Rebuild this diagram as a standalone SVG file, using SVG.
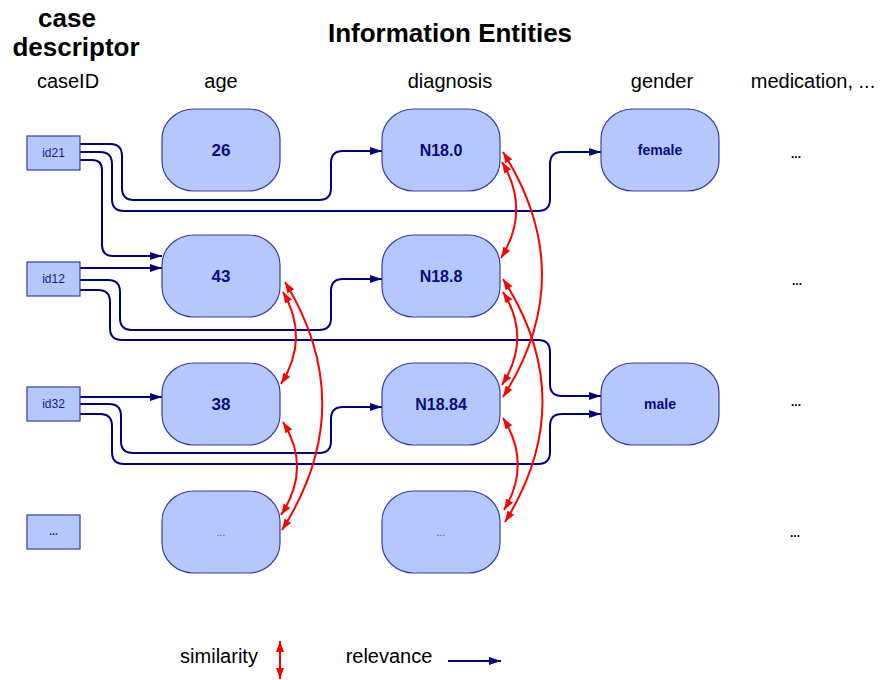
<svg xmlns="http://www.w3.org/2000/svg" width="883" height="680" viewBox="0 0 883 680">
<style>
.hdr{font-family:"Liberation Sans",Arial,sans-serif;font-size:20px;fill:#000;text-anchor:middle}
.ttl{font-family:"Liberation Sans",Arial,sans-serif;font-size:26px;font-weight:bold;fill:#000;text-anchor:middle}
.node rect{fill:#b4c8fc;stroke:#3c3ca8;stroke-width:1.2}
.nt{font-family:"Liberation Sans",Arial,sans-serif;font-weight:bold;fill:#0a0a80;text-anchor:middle;dominant-baseline:central}
.idt{font-family:"Liberation Sans",Arial,sans-serif;font-size:12px;fill:#1a1a8c;text-anchor:middle;dominant-baseline:central}
.rel{fill:none;stroke:#000080;stroke-width:2}
.sim{fill:none;stroke:#ff0000;stroke-width:2}
.dots{font-family:"Liberation Sans",Arial,sans-serif;font-size:12px;font-weight:bold;fill:#000;text-anchor:middle}
</style>
<defs>
<marker id="ab" markerUnits="userSpaceOnUse" markerWidth="13" markerHeight="9" refX="12" refY="4" orient="auto"><path d="M0,0 L12,4 L0,8 z" fill="#000080"/></marker>
<marker id="ar" markerUnits="userSpaceOnUse" markerWidth="12" markerHeight="9" refX="11" refY="4" orient="auto-start-reverse"><path d="M0,0 L11,4 L0,8 z" fill="#ff0000"/></marker>
</defs>
<rect width="883" height="680" fill="#fff"/>
<g id="headers">
<text class="ttl" x="67" y="27">case</text>
<text class="ttl" x="76" y="56">descriptor</text>
<text class="ttl" x="450" y="42">Information Entities</text>
<text class="hdr" x="68" y="88">caseID</text>
<text class="hdr" x="221" y="88">age</text>
<text class="hdr" x="450" y="88">diagnosis</text>
<text class="hdr" x="662" y="88">gender</text>
<text class="hdr" x="813" y="88">medication, ...</text>
</g>
<g id="connectors">
<path class="rel" marker-end="url(#ab)" d="M80,144 H110 Q122,144 122,156 V188 Q122,200 134,200 H319 Q331,200 331,188 V163 Q331,151 343,151 H382"/>
<path class="rel" marker-end="url(#ab)" d="M80,152 H100 Q112,152 112,164 V199 Q112,211 124,211 H538 Q550,211 550,199 V164 Q550,152 562,152 H601"/>
<path class="rel" marker-end="url(#ab)" d="M80,160 H92 Q102,160 102,170 V245 Q102,256 113,256 H162"/>
<path class="rel" marker-end="url(#ab)" d="M80,268 H162"/>
<path class="rel" marker-end="url(#ab)" d="M80,280 H108 Q120,280 120,292 V318 Q120,330 132,330 H319 Q331,330 331,318 V291 Q331,279 343,279 H382"/>
<path class="rel" marker-end="url(#ab)" d="M80,290 H98 Q110,290 110,302 V328 Q110,340 122,340 H538 Q550,340 550,352 V384 Q550,396 562,396 H601"/>
<path class="rel" marker-end="url(#ab)" d="M80,397 H162"/>
<path class="rel" marker-end="url(#ab)" d="M80,404 H109 Q121,404 121,416 V441 Q121,453 133,453 H319 Q331,453 331,441 V419 Q331,407 343,407 H382"/>
<path class="rel" marker-end="url(#ab)" d="M80,414 H100 Q112,414 112,426 V452 Q112,464 124,464 H538 Q550,464 550,452 V426 Q550,414 562,414 H601"/>
<path class="sim" marker-start="url(#ar)" marker-end="url(#ar)" d="M283,292 Q310,338 281,384"/>
<path class="sim" marker-start="url(#ar)" marker-end="url(#ar)" d="M285,282 Q361,406 282,530"/>
<path class="sim" marker-start="url(#ar)" marker-end="url(#ar)" d="M283,422 Q312,468 281,515"/>
<path class="sim" marker-start="url(#ar)" marker-end="url(#ar)" d="M502,162 Q531,210 501,258"/>
<path class="sim" marker-start="url(#ar)" marker-end="url(#ar)" d="M503,152 Q581,275 503,397"/>
<path class="sim" marker-start="url(#ar)" marker-end="url(#ar)" d="M503,292 Q532,338 502,385"/>
<path class="sim" marker-start="url(#ar)" marker-end="url(#ar)" d="M503,279 Q581,400 505,522"/>
<path class="sim" marker-start="url(#ar)" marker-end="url(#ar)" d="M503,418 Q532,464 504,510"/>
</g>
<g id="id21" class="node"><rect x="27" y="136" width="53" height="34"/><text class="idt" x="53.5" y="153">id21</text></g>
<g id="id12" class="node"><rect x="27" y="262" width="53" height="34"/><text class="idt" x="53.5" y="279">id12</text></g>
<g id="id32" class="node"><rect x="27" y="387" width="53" height="34"/><text class="idt" x="53.5" y="404">id32</text></g>
<g id="idmore" class="node"><rect x="27" y="515" width="53" height="34"/><text class="idt" x="53.5" y="531" style="font-weight:bold;font-size:10px">...</text></g>
<g id="age26" class="node"><rect x="162" y="109" width="118" height="82" rx="32" ry="30"/><text class="nt" x="221" y="150" font-size="17">26</text></g>
<g id="age43" class="node"><rect x="162" y="235" width="118" height="82" rx="32" ry="30"/><text class="nt" x="221" y="276" font-size="17">43</text></g>
<g id="age38" class="node"><rect x="162" y="363" width="118" height="82" rx="32" ry="30"/><text class="nt" x="221" y="404" font-size="17">38</text></g>
<g id="agemore" class="node"><rect x="162" y="491" width="118" height="82" rx="32" ry="30"/><text class="nt" x="221" y="532" font-size="10" style="font-weight:normal;fill:#4a4aa0">...</text></g>
<g id="diagN180" class="node"><rect x="382" y="109" width="118" height="82" rx="32" ry="30"/><text class="nt" x="441" y="150" font-size="16">N18.0</text></g>
<g id="diagN188" class="node"><rect x="382" y="235" width="118" height="82" rx="32" ry="30"/><text class="nt" x="441" y="276" font-size="16">N18.8</text></g>
<g id="diagN1884" class="node"><rect x="382" y="363" width="118" height="82" rx="32" ry="30"/><text class="nt" x="441" y="404" font-size="16">N18.84</text></g>
<g id="diagmore" class="node"><rect x="382" y="491" width="118" height="82" rx="32" ry="30"/><text class="nt" x="441" y="532" font-size="10" style="font-weight:normal;fill:#4a4aa0">...</text></g>
<g id="female" class="node"><rect x="601" y="109" width="118" height="82" rx="32" ry="30"/><text class="nt" x="660" y="150" font-size="14">female</text></g>
<g id="male" class="node"><rect x="601" y="363" width="118" height="82" rx="32" ry="30"/><text class="nt" x="660" y="404" font-size="14">male</text></g>
<g id="medmore">
<text class="dots" x="796" y="158">...</text>
<text class="dots" x="797" y="285">...</text>
<text class="dots" x="796" y="406">...</text>
<text class="dots" x="795" y="537">...</text>
</g>
<g id="legend">
<text class="hdr" x="219" y="663">similarity</text>
<path class="sim" marker-start="url(#ar)" marker-end="url(#ar)" d="M280,641 V679"/>
<text class="hdr" x="389" y="663">relevance</text>
<path class="rel" marker-end="url(#ab)" d="M448,661 H501"/>
</g>
</svg>
